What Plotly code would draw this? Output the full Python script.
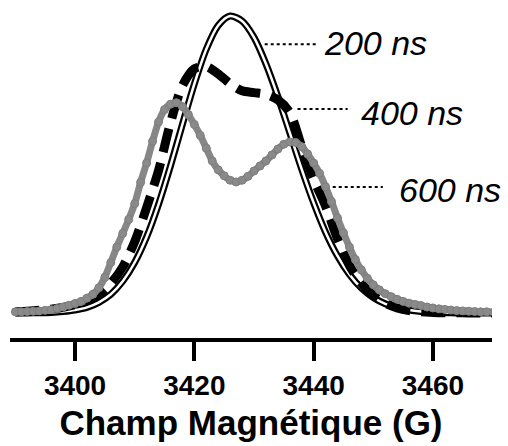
import plotly.graph_objects as go

# Magnetic field sampling (G)
field_coarse = list(range(3390, 3471, 2))   # 200 ns / 400 ns traces
field_fine = list(range(3390, 3471, 1))     # 600 ns trace

# Normalised EPR intensity (a.u.)
spec_200ns = [0.000, 0.000, 0.001, 0.002, 0.005, 0.010, 0.019, 0.036, 0.063, 0.107,
              0.170, 0.256, 0.366, 0.495, 0.635, 0.771, 0.888, 0.968, 1.000, 0.983,
              0.928, 0.839, 0.729, 0.607, 0.484, 0.371, 0.272, 0.192, 0.130, 0.084,
              0.052, 0.031, 0.018, 0.010, 0.005, 0.002, 0.001, 0.000, 0.000, 0.000,
              0.000]

spec_400ns = [0.004, 0.006, 0.009, 0.013, 0.019, 0.028, 0.041, 0.062, 0.100, 0.155,
              0.240, 0.355, 0.480, 0.640, 0.765, 0.822, 0.830, 0.805, 0.772, 0.748,
              0.742, 0.736, 0.718, 0.675, 0.560, 0.450, 0.360, 0.250, 0.160, 0.100,
              0.060, 0.033, 0.017, 0.008, 0.004, 0.002, 0.001, 0.001, 0.000, 0.000,
              0.000]

spec_600ns = [0.004, 0.004, 0.005, 0.006, 0.007, 0.009, 0.011, 0.015, 0.020, 0.026,
              0.032, 0.039, 0.050, 0.063, 0.085, 0.120, 0.170, 0.222, 0.268, 0.315,
              0.368, 0.440, 0.505, 0.578, 0.643, 0.685, 0.703, 0.708, 0.695, 0.668,
              0.635, 0.598, 0.555, 0.512, 0.482, 0.462, 0.447, 0.441, 0.447, 0.460,
              0.478, 0.495, 0.512, 0.532, 0.552, 0.568, 0.576, 0.574, 0.560, 0.535,
              0.505, 0.470, 0.425, 0.375, 0.320, 0.270, 0.222, 0.180, 0.145, 0.117,
              0.095, 0.078, 0.065, 0.055, 0.046, 0.039, 0.033, 0.029, 0.025, 0.020,
              0.017, 0.014, 0.012, 0.010, 0.008, 0.007, 0.006, 0.005, 0.004, 0.004,
              0.003]

delay_labels = ["200 ns", "400 ns", "600 ns"]
tick_values = [3400, 3420, 3440, 3460]

FONT = "Liberation Sans, Arial, Helvetica, sans-serif"

fig = go.Figure()

# 200 ns: outlined line (thick black with a white core)
fig.add_trace(go.Scatter(x=field_coarse, y=spec_200ns, mode="lines",
                         line=dict(color="black", width=7, shape="spline", smoothing=0.8),
                         hoverinfo="skip", showlegend=False))
fig.add_trace(go.Scatter(x=field_coarse, y=spec_200ns, mode="lines",
                         line=dict(color="white", width=2.5, shape="spline", smoothing=0.8),
                         hoverinfo="skip", showlegend=False))

# 400 ns: heavy dashed line
fig.add_trace(go.Scatter(x=field_coarse, y=spec_400ns, mode="lines",
                         line=dict(color="black", width=9, dash="24px,11px",
                                   shape="spline", smoothing=0.8),
                         hoverinfo="skip", showlegend=False))

# 600 ns: grey beaded trace
fig.add_trace(go.Scatter(x=field_fine, y=spec_600ns, mode="lines+markers",
                         line=dict(color="#878787", width=7, shape="spline", smoothing=0.6),
                         marker=dict(color="#8a8a8a", size=8,
                                     line=dict(color="#7e7e7e", width=1)),
                         cliponaxis=False, hoverinfo="skip", showlegend=False))

# Delay labels with dotted leaders
label_pos = [
    # (leader x0, leader x1, leader y, text x, text y)
    (3431.8, 3440.5, 0.905, 3441.4, 0.910),
    (3437.3, 3445.7, 0.687, 3447.6, 0.672),
    (3443.2, 3451.6, 0.424, 3454.0, 0.414),
]
for text, (x0, x1, ly, tx, ty) in zip(delay_labels, label_pos):
    fig.add_shape(type="line", xref="x", yref="y", x0=x0, x1=x1, y0=ly, y1=ly,
                  line=dict(color="black", width=2, dash="dot"))
    fig.add_annotation(x=tx, y=ty, xref="x", yref="y", text=text, showarrow=False,
                       xanchor="left", yanchor="middle",
                       font=dict(family=FONT, size=34, color="black", style="italic"))

fig.update_layout(
    width=508, height=446,
    margin=dict(l=10, r=16, t=5, b=108),
    paper_bgcolor="white", plot_bgcolor="white",
    xaxis=dict(range=[3389.1, 3469.9], tickvals=tick_values,
               ticks="outside", ticklen=19, tickwidth=4, tickcolor="black",
               showline=True, linewidth=4, linecolor="black",
               showgrid=False, zeroline=False,
               tickfont=dict(family=FONT, size=28, color="black", weight="bold"),
               title=dict(text="Champ Magnétique (G)", standoff=12,
                          font=dict(family=FONT, size=35, color="black", weight="bold"))),
    yaxis=dict(range=[-0.0842, 1.037], visible=False, showgrid=False, zeroline=False),
)

fig.write_html("out.html")
